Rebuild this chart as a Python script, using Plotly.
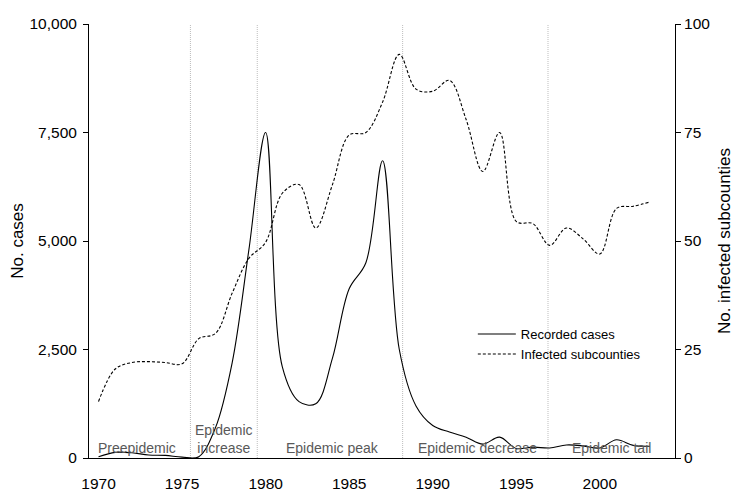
import plotly.graph_objects as go

# yearly data
years = list(range(1970, 2004))
recorded_cases = [30, 130, 120, 70, 60, 20, 30, 700, 2200, 4800,
                  7500, 2100, 1300, 1250, 2300, 3900, 4500, 6850, 2500, 1200,
                  750, 600, 480, 320, 480, 220, 250, 230, 300, 280,
                  230, 420, 290, 270]
infected_subcounties = [13, 20.5, 22, 22.2, 22, 21.7, 27.5, 28.7, 38, 46,
                        49.7, 61, 63, 53, 63, 74.4, 75, 82, 93, 85,
                        84.5, 87, 78, 66, 75, 54.5, 54, 49, 53, 50.5,
                        47, 57.5, 58, 59]

# phase boundaries and labels
phase_bounds = [1975.5, 1979.5, 1988.2, 1996.9]
phase_names = ["Preepidemic", "Epidemic<br>increase", "Epidemic peak",
               "Epidemic decrease", "Epidemic tail"]
phase_centers = [1972.3, 1977.5, 1984.0, 1992.7, 2000.7]

fig = go.Figure()

fig.add_trace(go.Scatter(
    x=years, y=recorded_cases,
    mode='lines', name='Recorded cases',
    line=dict(color='black', width=1.1, shape='spline', smoothing=1.0)
))

fig.add_trace(go.Scatter(
    x=years, y=infected_subcounties,
    mode='lines', name='Infected subcounties', yaxis='y2',
    line=dict(color='black', width=1.1, dash='3px,2px', shape='spline', smoothing=1.0)
))

# dotted phase separators
for b in phase_bounds:
    fig.add_shape(type='line', xref='x', yref='paper', x0=b, x1=b, y0=0, y1=1,
                  line=dict(color='#bdbdbd', width=1, dash='1px,1px'), layer='below')

for name, cx in zip(phase_names, phase_centers):
    fig.add_annotation(x=cx, y=0, xref='x', yref='paper', text=name,
                       showarrow=False, yanchor='bottom', yshift=0,
                       font=dict(size=14, color='#595959'))

fig.update_layout(
    width=750, height=504,
    margin=dict(l=81, r=83, t=16, b=54),
    paper_bgcolor='white', plot_bgcolor='white',
    font=dict(family='Liberation Sans, Arial', size=14, color='black'),
    showlegend=True,
    legend=dict(x=0.655, y=0.32, xanchor='left', yanchor='top',
                bgcolor='rgba(0,0,0,0)', font=dict(size=13),
                itemwidth=38, tracegroupgap=0),
    xaxis=dict(range=[1969.43, 2004.5], tickvals=list(range(1970, 2001, 5)),
               showgrid=False, zeroline=False, showline=True,
               linecolor='black', linewidth=1, ticks='', automargin=False,
               ticklabelstandoff=11, tickfont=dict(size=15.5)),
    yaxis=dict(range=[0, 10000], tickvals=[0, 2500, 5000, 7500, 10000],
               tickformat=',d', title=dict(text='No. cases', standoff=4),
               showgrid=False, zeroline=False, showline=True, automargin=False,
               linecolor='black', linewidth=1, ticks='outside', ticklen=5,
               tickcolor='black', ticklabelstandoff=3, tickfont=dict(size=15.5)),
    yaxis2=dict(range=[0, 100], tickvals=[0, 25, 50, 75, 100],
                overlaying='y', side='right', automargin=False,
                title=dict(text='No. infected subcounties', standoff=8),
                showgrid=False, zeroline=False, showline=True,
                linecolor='black', linewidth=1, ticks='outside', ticklen=5,
                tickcolor='black', tickfont=dict(size=15.5))
)

fig.write_html("out.html")
